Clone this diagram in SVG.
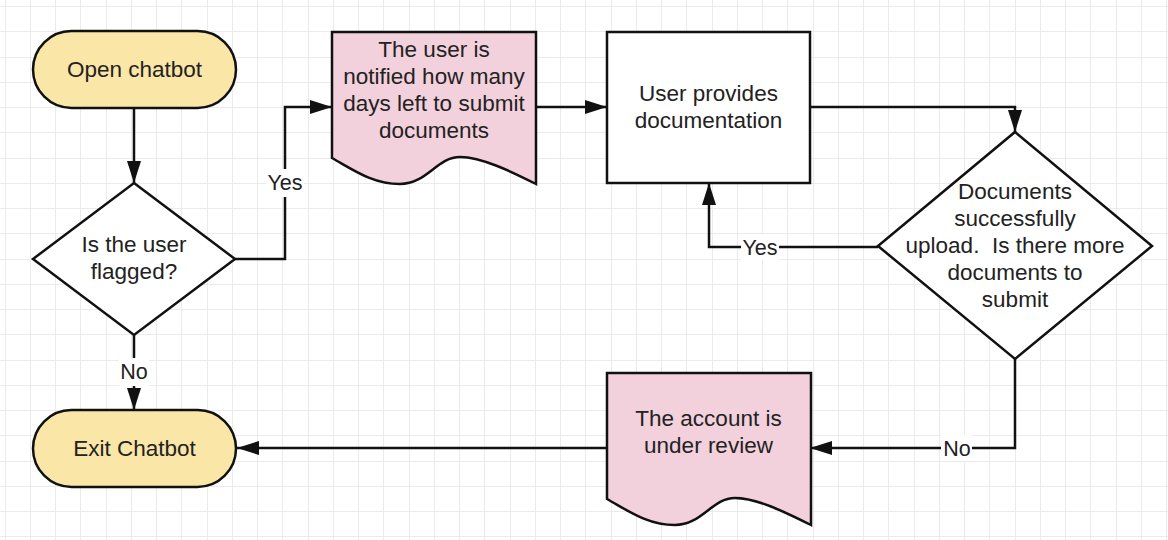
<svg xmlns="http://www.w3.org/2000/svg" width="1168" height="540" viewBox="0 0 1168 540">
<style>
.grid{fill:none;stroke:#ebebeb;stroke-width:1}
.term{fill:#fae6a7;stroke:#111;stroke-width:2.5}
.doc{fill:#f2d1dc;stroke:#111;stroke-width:2.5;stroke-linejoin:miter}
.proc{fill:#fff;stroke:#111;stroke-width:2.5}
.t{font-family:"Liberation Sans",Arial,sans-serif;font-size:22.5px;fill:#222;text-anchor:middle}
.lbl{font-family:"Liberation Sans",Arial,sans-serif;font-size:21.5px;fill:#222;text-anchor:middle}
.edge{fill:none;stroke:#111;stroke-width:2.5;marker-end:url(#arr)}
.lblbg{fill:#fff}
</style>
<defs>
<marker id="arr" markerUnits="userSpaceOnUse" markerWidth="22" markerHeight="14" refX="22" refY="7" orient="auto">
<path d="M0,0 L22,7 L0,14 Z" fill="#111"/>
</marker>
<path id="docshape" d="M0,0 H204 V152 C180,140 150,125 128,125 C105,125 95,152 68,152 C40,152 20,137 0,126 Z"/>
</defs>
<rect width="1168" height="540" fill="#fff"/>
<path class="grid" d="M5.5,0V540M30.5,0V540M55.5,0V540M80.5,0V540M106.5,0V540M131.5,0V540M156.5,0V540M181.5,0V540M207.5,0V540M232.5,0V540M257.5,0V540M282.5,0V540M308.5,0V540M333.5,0V540M358.5,0V540M383.5,0V540M409.5,0V540M434.5,0V540M459.5,0V540M484.5,0V540M510.5,0V540M535.5,0V540M560.5,0V540M585.5,0V540M611.5,0V540M636.5,0V540M661.5,0V540M686.5,0V540M712.5,0V540M737.5,0V540M762.5,0V540M787.5,0V540M813.5,0V540M838.5,0V540M863.5,0V540M888.5,0V540M914.5,0V540M939.5,0V540M964.5,0V540M989.5,0V540M1015.5,0V540M1040.5,0V540M1065.5,0V540M1090.5,0V540M1116.5,0V540M1141.5,0V540M1166.5,0V540M0,6.5H1168M0,31.5H1168M0,57.5H1168M0,82.5H1168M0,107.5H1168M0,132.5H1168M0,158.5H1168M0,183.5H1168M0,208.5H1168M0,233.5H1168M0,259.5H1168M0,284.5H1168M0,309.5H1168M0,334.5H1168M0,360.5H1168M0,385.5H1168M0,410.5H1168M0,435.5H1168M0,461.5H1168M0,486.5H1168M0,511.5H1168M0,536.5H1168"/>

<g id="connectors">
<path class="edge" d="M134,108 V183"/>
<path class="edge" d="M235,259 H285 V107 H332"/>
<path class="edge" d="M134,335 V410"/>
<path class="edge" d="M536,107 H607"/>
<path class="edge" d="M810,107 H1015 V132"/>
<path class="edge" d="M878,247 H709 V183"/>
<path class="edge" d="M1015,359 V448 H810"/>
<path class="edge" d="M607,448 H237"/>
<rect class="lblbg" x="266" y="169" width="38" height="28"/>
<text class="lbl" x="285" y="189.5">Yes</text>
<rect class="lblbg" x="119" y="358" width="30" height="28"/>
<text class="lbl" x="134" y="378.5">No</text>
<rect class="lblbg" x="741" y="234" width="38" height="26"/>
<text class="lbl" x="760" y="254.5">Yes</text>
<rect class="lblbg" x="941" y="435" width="31" height="26"/>
<text class="lbl" x="957" y="455.5">No</text>
</g>

<g id="open-chatbot">
<rect class="term" x="33" y="31" width="203" height="77" rx="38.5"/>
<text class="t" x="134.5" y="77">Open chatbot</text>
</g>

<g id="is-flagged">
<path class="proc" d="M134,183 L235,259 L134,335 L33,259 Z"/>
<text class="t" x="134" y="251.5">Is the user</text>
<text class="t" x="134" y="279">flagged?</text>
</g>

<g id="exit-chatbot">
<rect class="term" x="33" y="410" width="203" height="77" rx="38.5"/>
<text class="t" x="134.5" y="456">Exit Chatbot</text>
</g>

<g id="notified">
<use href="#docshape" class="doc" transform="translate(332,32)"/>
<text class="t" x="434" y="56.5">The user is</text>
<text class="t" x="434" y="83.5">notified how many</text>
<text class="t" x="434" y="110.5">days left to submit</text>
<text class="t" x="434" y="137.5">documents</text>
</g>

<g id="user-provides">
<rect class="proc" x="607" y="32" width="203" height="151"/>
<text class="t" x="708.5" y="100.5">User provides</text>
<text class="t" x="708.5" y="127.5">documentation</text>
</g>

<g id="docs-uploaded">
<path class="proc" d="M1015,132 L1152,246 L1015,359 L878,246 Z"/>
<text class="t" x="1015" y="199">Documents</text>
<text class="t" x="1015" y="226">successfully</text>
<text class="t" x="1015" y="253" xml:space="preserve">upload.  Is there more</text>
<text class="t" x="1015" y="280">documents to</text>
<text class="t" x="1015" y="307">submit</text>
</g>

<g id="under-review">
<use href="#docshape" class="doc" transform="translate(607,373)"/>
<text class="t" x="708.5" y="426">The account is</text>
<text class="t" x="708.5" y="453">under review</text>
</g>
</svg>
